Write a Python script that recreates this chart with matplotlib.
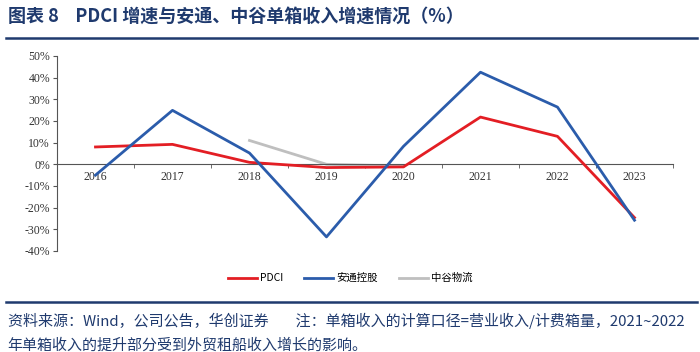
import matplotlib
matplotlib.use("Agg")
import matplotlib.pyplot as plt
from matplotlib.lines import Line2D

plt.rcParams['font.family'] = ['Noto Sans CJK SC', 'DejaVu Sans']

# ---- data ----
years   = ["2016", "2017", "2018", "2019", "2020", "2021", "2022", "2023"]
pdci    = [8.0, 9.2, 0.9, -1.5, -1.2, 21.8, 12.9, -24.6]
antong  = [-5.0, 24.9, 5.2, -33.5, 8.3, 42.5, 26.4, -25.8]
zhonggu_years = ["2018", "2019", "2020"]
zhonggu = [11.0, 0.0, -0.8]
y_ticks = [-40, -30, -20, -10, 0, 10, 20, 30, 40, 50]

RED   = "#e31e24"
BLUE  = "#2b5cab"
GRAY  = "#bfbfbf"
NAVY  = "#1f3a6e"

fig = plt.figure(figsize=(7.0, 3.52), dpi=100)
ax = fig.add_axes([0.0814, 0.287, 0.88, 0.554])

x = list(range(len(years)))
xz = [years.index(y) for y in zhonggu_years]
ax.plot(x, pdci, color=RED, lw=2.0, zorder=3)
ax.plot(x, antong, color=BLUE, lw=2.0, zorder=3)
ax.plot(xz, zhonggu, color=GRAY, lw=2.0, zorder=2)

ax.set_xlim(-0.5, len(years) - 0.5)
ax.set_ylim(-40, 50)
ax.set_yticks(y_ticks)
ax.set_yticklabels([f"{v}%" for v in y_ticks], family="Liberation Serif", fontsize=8.5, color="#333333")

ax.spines['top'].set_visible(False)
ax.spines['right'].set_visible(False)
ax.spines['bottom'].set_position(('data', 0))
ax.spines['bottom'].set_color("#555555")
ax.spines['left'].set_color("#555555")

ax.set_xticks(x)
ax.set_xticklabels(years, family="Liberation Serif", fontsize=8.5, color="#333333")
ax.set_xticks([i - 0.5 for i in range(len(years) + 1)], minor=True)
ax.tick_params(axis='x', which='major', length=0, pad=5)
ax.tick_params(axis='x', which='minor', length=3, direction='out', color="#555555")
ax.tick_params(axis='y', length=3, direction='out', color="#555555", pad=2)

handles = [Line2D([], [], color=RED, lw=2),
           Line2D([], [], color=BLUE, lw=2),
           Line2D([], [], color=GRAY, lw=2)]
fig.legend(handles, ["PDCI", "安通控股", "中谷物流"], loc='center', bbox_to_anchor=(0.5, 0.21),
           ncol=3, frameon=False, fontsize=7.5, handlelength=2.8, columnspacing=2.0, handletextpad=0.3)

# title and lines
fig.text(0.011, 0.955, "图表 8    PDCI 增速与安通、中谷单箱收入增速情况（%）", fontsize=13,
         fontweight='bold', color=NAVY, va='center', ha='left')
fig.add_artist(Line2D([0.008, 0.995], [0.893, 0.893], color=NAVY, lw=1.8, transform=fig.transFigure))
fig.add_artist(Line2D([0.008, 0.995], [0.142, 0.142], color=NAVY, lw=1.8, transform=fig.transFigure))

fig.text(0.011, 0.088, "资料来源：Wind，公司公告，华创证券        注：单箱收入的计算口径=营业收入/计费箱量，2021~2022",
         fontsize=10.8, style='italic', color=NAVY, va='center', ha='left')
fig.text(0.011, 0.018, "年单箱收入的提升部分受到外贸租船收入增长的影响。",
         fontsize=10.8, style='italic', color=NAVY, va='center', ha='left')

fig.savefig("out.png", dpi=100)
